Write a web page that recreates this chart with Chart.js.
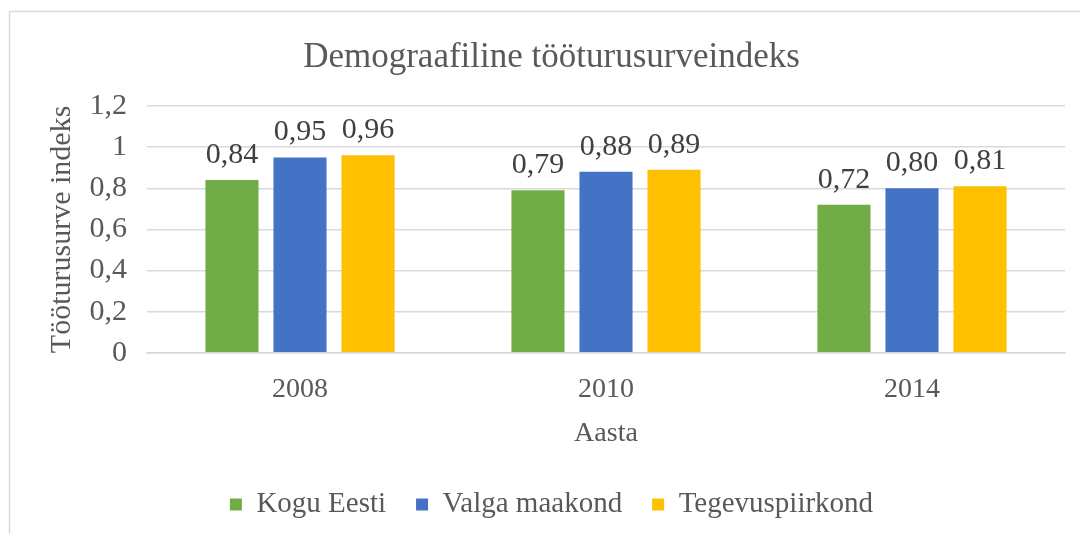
<!DOCTYPE html>
<html>
<head>
<meta charset="utf-8">
<script src="https://cdn.jsdelivr.net/npm/chart.js@4/dist/chart.umd.min.js"></script>
<style>
  html, body { margin: 0; padding: 0; background: #fff; }
  #wrap { width: 1080px; height: 534px; }
</style>
</head>
<body>
<div id="wrap"><canvas id="myChart" width="1080" height="534"></canvas></div>
<script>
/* data */
var years = ['2008', '2010', '2014'];
var koguEesti = [0.84, 0.79, 0.72];
var valgaMaakond = [0.95, 0.88, 0.80];
var tegevuspiirkond = [0.96, 0.89, 0.81];

var serif = "'Liberation Serif', 'Times New Roman', serif";

/* frame round the chart */
var framePlugin = {
    id: 'frame',
    beforeDraw: function (chart) {
        var c = chart.ctx;
        c.save();
        c.strokeStyle = '#d9d9d9';
        c.lineWidth = 1.5;
        c.beginPath();
        c.moveTo(9.5, 534);
        c.lineTo(9.5, 11.5);
        c.lineTo(1080, 11.5);
        c.stroke();
        c.restore();
    }
};

/* value labels above bars */
var labelPlugin = {
    id: 'barLabels',
    afterDatasetsDraw: function (chart) {
        var c = chart.ctx;
        c.save();
        c.font = '30px ' + serif;
        c.fillStyle = '#404040';
        c.textAlign = 'center';
        c.textBaseline = 'middle';
        chart.data.datasets.forEach(function (ds, i) {
            chart.getDatasetMeta(i).data.forEach(function (bar, j) {
                var txt = ds.data[j].toFixed(2).replace('.', ',');
                c.fillText(txt, bar.x, bar.y - 25);
            });
        });
        c.restore();
    }
};

var ctx = document.getElementById('myChart').getContext('2d');
var myChart = new Chart(ctx, {
    type: 'bar',
    data: {
        labels: years,
        datasets: [{
            label: 'Kogu Eesti',
            data: koguEesti,
            backgroundColor: '#70ad47'
        }, {
            label: 'Valga maakond',
            data: valgaMaakond,
            backgroundColor: '#4472c4'
        }, {
            label: 'Tegevuspiirkond',
            data: tegevuspiirkond,
            backgroundColor: '#ffc000'
        }]
    },
    options: {
        responsive: false,
        animation: false,
        layout: { padding: { left: 38, right: 15, top: 16, bottom: 5 } },
        datasets: {
            bar: { categoryPercentage: 0.667, barPercentage: 0.78 }
        },
        plugins: {
            title: {
                display: true,
                text: 'Demograafiline tööturusurveindeks',
                color: '#595959',
                font: { family: serif, size: 35, weight: 'normal' },
                padding: { top: 21, bottom: 27 }
            },
            legend: {
                position: 'bottom',
                labels: {
                    color: '#595959',
                    font: { family: serif, size: 29 },
                    boxWidth: 12,
                    boxHeight: 12,
                    padding: 30
                }
            },
            tooltip: { enabled: false }
        },
        scales: {
            x: {
                grid: { display: false, drawTicks: false },
                border: { color: '#d9d9d9', width: 1.5 },
                ticks: { color: '#595959', font: { family: serif, size: 28 }, padding: 20 },
                title: {
                    display: true,
                    text: 'Aasta',
                    color: '#595959',
                    font: { family: serif, size: 28 },
                    padding: { top: 8, bottom: 10 }
                },
                afterFit: function (scale) { scale.height = scale.height - 18; }
            },
            y: {
                min: 0,
                max: 1.2,
                grid: { color: '#d9d9d9', lineWidth: 1.5, drawTicks: false },
                border: { display: false },
                ticks: {
                    stepSize: 0.2,
                    autoSkip: false,
                    color: '#595959',
                    font: { family: serif, size: 30 },
                    padding: 20,
                    callback: function (v) {
                        return (Math.round(v * 10) / 10).toString().replace('.', ',');
                    }
                },
                title: {
                    display: true,
                    text: 'Tööturusurve indeks',
                    color: '#595959',
                    font: { family: serif, size: 30 },
                    padding: { top: 6, bottom: 4 }
                },
                afterFit: function (scale) { scale.width = 109; }
            }
        }
    },
    plugins: [framePlugin, labelPlugin]
});
</script>
</body>
</html>
